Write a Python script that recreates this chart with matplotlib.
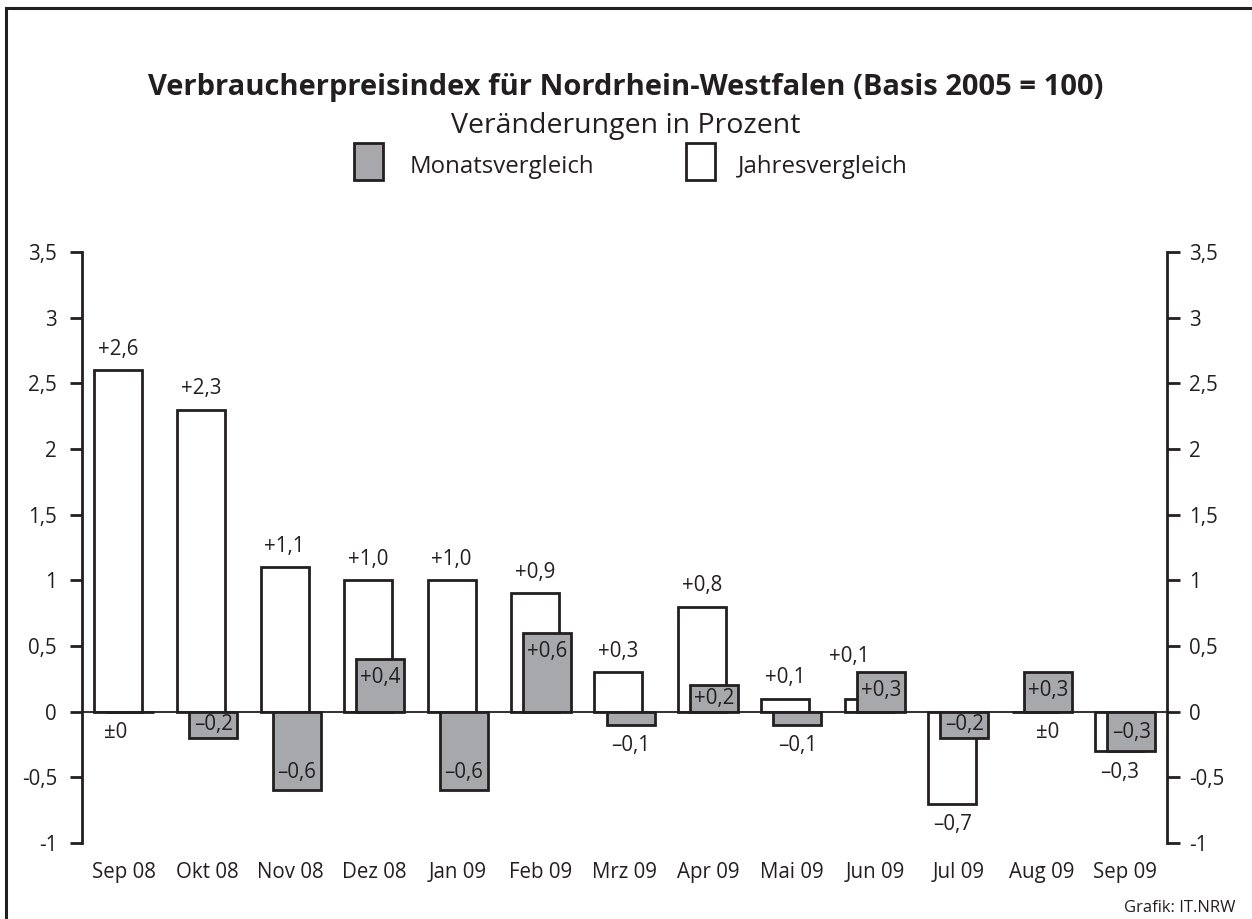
import matplotlib
matplotlib.use('Agg')
import matplotlib.pyplot as plt
from matplotlib.patches import Rectangle

months = ['Sep 08', 'Okt 08', 'Nov 08', 'Dez 08', 'Jan 09', 'Feb 09', 'Mrz 09',
          'Apr 09', 'Mai 09', 'Jun 09', 'Jul 09', 'Aug 09', 'Sep 09']
jahres = [2.6, 2.3, 1.1, 1.0, 1.0, 0.9, 0.3, 0.8, 0.1, 0.1, -0.7, 0.0, -0.3]
monats = [0.0, -0.2, -0.6, 0.4, -0.6, 0.6, -0.1, 0.2, -0.1, 0.3, -0.2, 0.3, -0.3]
yticks = [-1, -0.5, 0, 0.5, 1, 1.5, 2, 2.5, 3, 3.5]

dark = '#231f20'
grey = '#a7a8ab'
plt.rcParams['font.family'] = ['Open Sans', 'DejaVu Sans']

def fmt_val(v):
	if abs(v) < 1e-9:
		return '\u00b10'
	s = '%+.1f' % v
	return s.replace('-', '\u2013').replace('.', ',')

def fmt_tick(v):
	s = ('%g' % v).replace('.', ',')
	return s

fig = plt.figure(figsize=(12.52, 9.19), dpi=100)
fig.patches.append(Rectangle((6 / 1252, -0.1), 1.2, 1 - 8 / 919 + 0.1, transform=fig.transFigure,
	fill=False, edgecolor=dark, linewidth=2.2))

ax = fig.add_axes([82 / 1252, 1 - 843 / 919, (1167 - 82) / 1252, (843 - 252) / 919])
ax.set_xlim(-0.5, 12.5)
ax.set_ylim(-1, 3.5)

w = 0.575
off = 0.072
x = list(range(len(months)))
xw = [i - off for i in x]
xm = [i + off for i in x]
ax.bar(xw, jahres, width=w, color='white', edgecolor=dark, linewidth=2, zorder=2)
ax.bar(xm, monats, width=w, color=grey, edgecolor=dark, linewidth=2, zorder=3)
ax.axhline(0, color=dark, linewidth=1.3, zorder=4)

fs = 14.8
lab_off = 0.16
# Jahresvergleich labels
for i, v in enumerate(jahres):
	xx = xw[i]
	top = v
	if v > 0 and monats[i] > v:
		xx -= 0.23  # grey bar is taller here: move label up and to the left
		top = monats[i] - 0.04
	if v > 0:
		ax.text(xx, top + lab_off, fmt_val(v), ha='center', va='center', fontsize=fs, color=dark)
	elif v < 0:
		ax.text(xx, v - lab_off, fmt_val(v), ha='center', va='center', fontsize=fs, color=dark)
	else:
		ax.text(xm[i], -lab_off, fmt_val(v), ha='center', va='center', fontsize=fs, color=dark)

# Monatsvergleich labels
for i, v in enumerate(monats):
	if abs(v) < 1e-9:
		ax.text(xw[i] - 0.03, -lab_off, fmt_val(v), ha='center', va='center', fontsize=fs, color=dark)
	elif abs(v) < 0.15:
		ax.text(xm[i], v - lab_off, fmt_val(v), ha='center', va='center', fontsize=fs, color=dark)
	else:
		sgn = 1 if v > 0 else -1
		d = min(0.14, abs(v) / 2)
		ax.text(xm[i], v - sgn * d, fmt_val(v), ha='center', va='center', fontsize=fs, color=dark, zorder=5)

ax.set_xticks(x)
ax.set_xticklabels(months, fontsize=fs, color=dark)
ax.tick_params(axis='x', length=0, pad=14)
ax.set_yticks(yticks)
ax.set_yticklabels([fmt_tick(t) for t in yticks], fontsize=fs, color=dark)
ax.tick_params(axis='y', length=9, width=2, color=dark, pad=9, direction='out')
for s in ['top', 'bottom']:
	ax.spines[s].set_visible(False)
ax.spines['left'].set_linewidth(2)
ax.spines['left'].set_color(dark)
ax.spines['right'].set_visible(False)

ax2 = ax.twinx()
ax2.set_ylim(ax.get_ylim())
ax2.set_yticks(yticks)
ax2.set_yticklabels([fmt_tick(t) for t in yticks], fontsize=fs, color=dark)
ax2.tick_params(axis='y', length=9, width=2, color=dark, pad=7, direction='out')
for s in ['top', 'bottom', 'left']:
	ax2.spines[s].set_visible(False)
ax2.spines['right'].set_linewidth(2)
ax2.spines['right'].set_color(dark)

fig.text(626 / 1252, 1 - 88 / 919, 'Verbraucherpreisindex f\u00fcr Nordrhein-Westfalen (Basis 2005 = 100)',
	ha='center', va='center', fontsize=21, fontweight='bold', color=dark)
fig.text(626 / 1252, 1 - 126 / 919, 'Ver\u00e4nderungen in Prozent', ha='center', va='center',
	fontsize=20.5, color=dark)

# legend
fig.patches.append(Rectangle((354 / 1252, 1 - 180 / 919), 29 / 1252, 37 / 919, transform=fig.transFigure,
	facecolor=grey, edgecolor=dark, linewidth=2))
fig.text(410 / 1252, 1 - 167 / 919, 'Monatsvergleich', ha='left', va='center', fontsize=17.3, color=dark)
fig.patches.append(Rectangle((686 / 1252, 1 - 180 / 919), 29 / 1252, 37 / 919, transform=fig.transFigure,
	facecolor='white', edgecolor=dark, linewidth=2))
fig.text(738 / 1252, 1 - 167 / 919, 'Jahresvergleich', ha='left', va='center', fontsize=17.3, color=dark)

fig.text(1235 / 1252, 1 - 908 / 919, 'Grafik: IT.NRW', ha='right', va='center', fontsize=12, color=dark)

fig.savefig('out.png', dpi=100, facecolor='white')
